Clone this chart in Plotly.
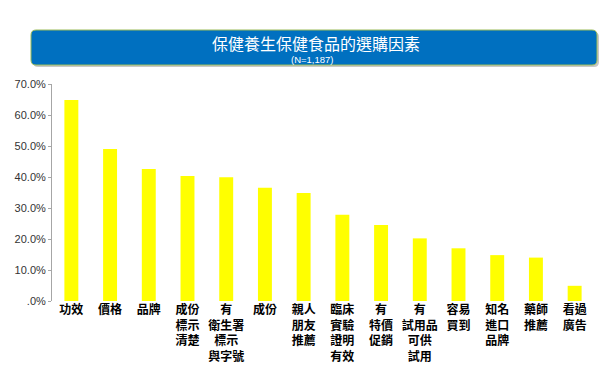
import plotly.graph_objects as go

categories = [
    "功效", "價格", "品牌", "成份<br>標示<br>清楚", "有<br>衛生署<br>標示<br>與字號",
    "成份", "親人<br>朋友<br>推薦", "臨床<br>實驗<br>證明<br>有效", "有<br>特價<br>促銷",
    "有<br>試用品<br>可供<br>試用", "容易<br>買到", "知名<br>進口<br>品牌", "藥師<br>推薦", "看過<br>廣告",
]
values = [64.8, 49.0, 42.6, 40.3, 39.9, 36.5, 34.8, 27.8, 24.5, 20.2, 17.0, 14.8, 14.0, 4.9]
tick_vals = [0, 10, 20, 30, 40, 50, 60, 70]
tick_text = [".0%", "10.0%", "20.0%", "30.0%", "40.0%", "50.0%", "60.0%", "70.0%"]
title_text = "保健養生保健食品的選購因素"
subtitle_text = "(N=1,187)"

W, H = 613, 385
L, R, T, B = 52, 19, 84, 84
PW, PH = W - L - R, H - T - B

def px(x):
    return (x - L) / PW

def py(y):
    return (H - B - y) / PH

def rounded(x0, y0, x1, y1, r):
    return (
        f"M {px(x0 + r)} {py(y0)} L {px(x1 - r)} {py(y0)} "
        f"Q {px(x1)} {py(y0)} {px(x1)} {py(y0 + r)} "
        f"L {px(x1)} {py(y1 - r)} Q {px(x1)} {py(y1)} {px(x1 - r)} {py(y1)} "
        f"L {px(x0 + r)} {py(y1)} Q {px(x0)} {py(y1)} {px(x0)} {py(y1 - r)} "
        f"L {px(x0)} {py(y0 + r)} Q {px(x0)} {py(y0)} {px(x0 + r)} {py(y0)} Z"
    )

fig = go.Figure(go.Bar(
    x=categories, y=values, marker=dict(color="#FFFF00", line=dict(width=0)),
    hoverinfo="x+y",
))

fig.update_layout(
    width=W, height=H,
    margin=dict(l=L, r=R, t=T, b=B),
    paper_bgcolor="white", plot_bgcolor="white",
    bargap=0.64, showlegend=False,
    xaxis=dict(
        showline=False, showgrid=False, zeroline=False, ticks="",
        tickfont=dict(family="Noto Sans CJK TC", size=12, color="black", weight="bold"),
        tickangle=0,
    ),
    yaxis=dict(
        range=[0, 70], tickvals=tick_vals, ticktext=tick_text,
        showgrid=False, zeroline=False, showline=True, linecolor="#A6A6A6", linewidth=1,
        ticks="outside", ticklen=3, tickcolor="#A6A6A6",
        tickfont=dict(family="Arial", size=11, color="#333333"),
    ),
    shapes=[
        dict(type="path", xref="paper", yref="paper",
             path=rounded(33, 32, 599, 67, 5), fillcolor="#C8C8C8", line=dict(width=0), layer="above"),
        dict(type="path", xref="paper", yref="paper",
             path=rounded(31, 30, 597, 65, 5), fillcolor="#0070C0",
             line=dict(color="#9BBB59", width=1), layer="above"),
    ],
    annotations=[
        dict(text=title_text, xref="paper", yref="paper", x=px(316), y=py(42.5),
             xanchor="center", yanchor="middle", showarrow=False,
             font=dict(family="Noto Sans CJK TC", size=16, color="white")),
        dict(text=subtitle_text, xref="paper", yref="paper", x=px(312), y=py(59.5),
             xanchor="center", yanchor="middle", showarrow=False,
             font=dict(family="Arial", size=9.5, color="white")),
    ],
)

fig.write_html("out.html", config={"displayModeBar": False},
               post_script="document.body.style.margin='0';document.body.style.padding='0';")
